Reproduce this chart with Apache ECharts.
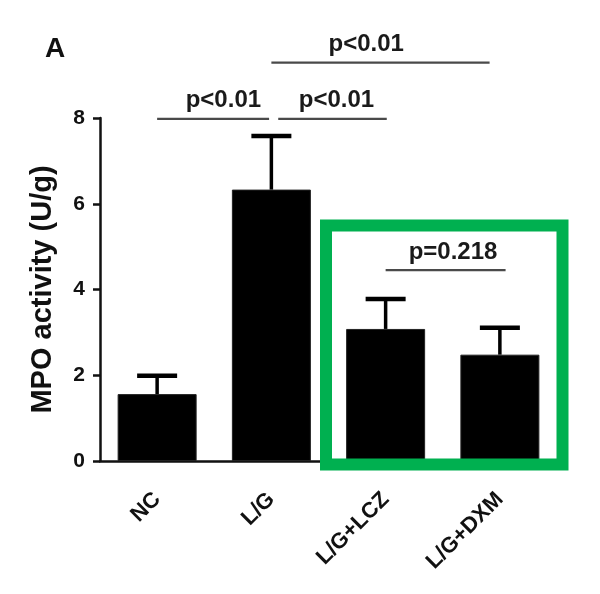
<!DOCTYPE html>
<html>
<head>
<meta charset="utf-8">
<style>
html,body{margin:0;padding:0;background:#fff;}
#chart{width:600px;height:594px;}
</style>
<script src="https://cdn.jsdelivr.net/npm/echarts@6/dist/echarts.min.js"></script>
</head>
<body>
<div id="chart"></div>
<script>
// ---- data ----
const categories = ['NC', 'L/G', 'L/G+LCZ', 'L/G+DXM'];
const means = [1.56, 6.33, 3.08, 2.48];
const upperErr = [1.99, 7.58, 3.78, 3.11];
const yMin = 0, yMax = 8, yInterval = 2;

// significance brackets (positions in category units)
const sigFrom = [0.0, 1.06, 1.0, 2.0];
const sigTo = [0.98, 2.01, 2.91, 3.05];
const sigY = [7.98, 7.98, 9.29, 4.45];
const sigLabelX = [0.58, 1.57, 1.83, 2.59];
const sigLabel = ['p<0.01', 'p<0.01', 'p<0.01', 'p=0.218'];

const panelLabel = 'A';
const yAxisName = 'MPO activity (U/g)';

const FONT = '"Liberation Sans", Arial, sans-serif';

const chart = echarts.init(document.getElementById('chart'));

chart.setOption({
  animation: false,
  backgroundColor: '#ffffff',
  grid: { left: 100, right: 43, top: 118, bottom: 133 },
  xAxis: {
    type: 'category',
    data: categories,
    axisLine: { lineStyle: { color: '#111', width: 2.5 } },
    axisTick: { alignWithLabel: true, length: 11, lineStyle: { color: '#111', width: 2.5 } },
    axisLabel: {
      rotate: 45, margin: 35, color: '#111',
      fontSize: 22, fontWeight: 'bold', fontFamily: FONT
    }
  },
  yAxis: {
    type: 'value',
    min: yMin, max: yMax, interval: yInterval,
    name: yAxisName,
    nameLocation: 'middle',
    nameGap: 43,
    nameTextStyle: { color: '#111', fontSize: 29, fontWeight: 'bold', fontFamily: FONT },
    splitLine: { show: false },
    axisLine: { show: true, lineStyle: { color: '#111', width: 2.5 } },
    axisTick: { show: true, length: 7, lineStyle: { color: '#111', width: 2.5 } },
    axisLabel: { color: '#111', fontSize: 21, fontWeight: 'bold', fontFamily: FONT, margin: 15 }
  },
  series: [
    {
      type: 'bar',
      data: means,
      barWidth: 79,
      itemStyle: { color: '#000', borderColor: '#222', borderWidth: 1 },
      z: 2
    },
    {
      type: 'custom',
      z: 3,
      clip: false,
      data: means.map((m, i) => [i, m, upperErr[i]]),
      renderItem: function (params, api) {
        const i = api.value(0);
        const top = api.coord([i, api.value(2)]);
        const base = api.coord([i, api.value(1)]);
        const hw = 20;
        return {
          type: 'group',
          children: [
            { type: 'line', shape: { x1: top[0], y1: base[1], x2: top[0], y2: top[1] },
              style: { stroke: '#000', lineWidth: 3.5 } },
            { type: 'line', shape: { x1: top[0] - hw, y1: top[1], x2: top[0] + hw, y2: top[1] },
              style: { stroke: '#000', lineWidth: 4.5 } }
          ]
        };
      }
    },
    {
      type: 'custom',
      z: 4,
      clip: false,
      silent: true,
      data: sigY.map((y, i) => [0, y]),
      renderItem: function (params, api) {
        const k = params.dataIndex;
        const y = api.value(1);
        const c0 = api.coord([0, y]);
        const c1 = api.coord([1, y]);
        const step = c1[0] - c0[0];
        const xa = c0[0] + sigFrom[k] * step;
        const xb = c0[0] + sigTo[k] * step;
        const xt = c0[0] + sigLabelX[k] * step;
        return {
          type: 'group',
          children: [
            { type: 'line', shape: { x1: xa, y1: c0[1], x2: xb, y2: c0[1] },
              style: { stroke: '#4a4a4a', lineWidth: 2.2 } },
            { type: 'text', x: xt, y: c0[1] - 6,
              style: { text: sigLabel[k], fill: '#1a1a1a', font: 'bold 24px ' + FONT,
                       textAlign: 'center', textVerticalAlign: 'bottom' } }
          ]
        };
      }
    }
  ],
  graphic: [
    { type: 'text', left: 45, top: 35,
      style: { text: panelLabel, fill: '#111', font: 'bold 28px ' + FONT } },
    { type: 'rect', z: 100, silent: true,
      shape: { x: 326, y: 225.5, width: 236.5, height: 239 },
      style: { fill: 'none', stroke: '#00B050', lineWidth: 12 } }
  ]
});
</script>
</body>
</html>
